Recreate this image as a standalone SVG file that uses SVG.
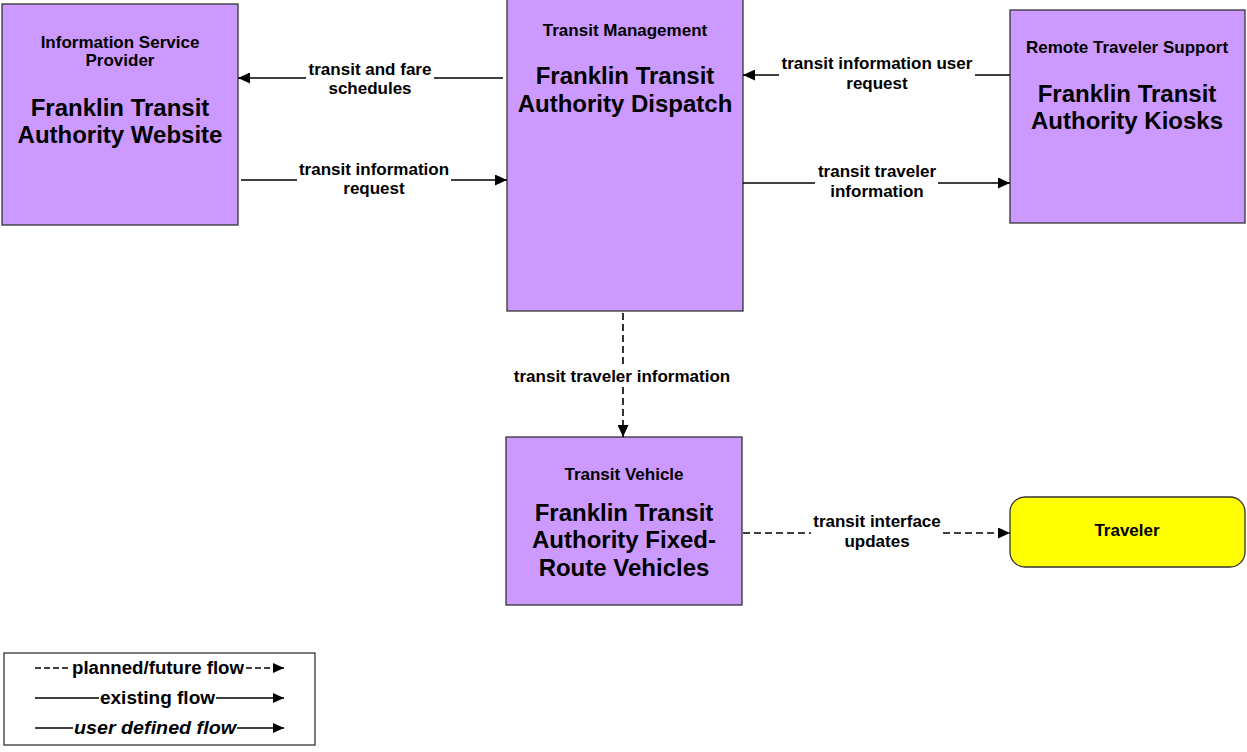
<svg xmlns="http://www.w3.org/2000/svg" width="1247" height="752" viewBox="0 0 1247 752">
<defs>
<marker id="ah" viewBox="0 0 12 11" refX="12" refY="5.5" markerWidth="12" markerHeight="11" markerUnits="userSpaceOnUse" orient="auto">
<path d="M0,0 L12,5.5 L0,11 Z" fill="#000"/>
</marker>
<marker id="ahs" viewBox="0 0 11 10" refX="11" refY="5" markerWidth="11" markerHeight="10" markerUnits="userSpaceOnUse" orient="auto">
<path d="M0,0 L11,5 L0,10 Z" fill="#000"/>
</marker>
<style>
.box{fill:#CC99FF;stroke:#333;stroke-width:1.3}
.trav{fill:#FFFF00;stroke:#333;stroke-width:1.3}
.hd{font-family:"Liberation Sans",Arial,sans-serif;font-weight:bold;font-size:17px;text-anchor:middle;fill:#000}
.big{font-family:"Liberation Sans",Arial,sans-serif;font-weight:bold;font-size:24px;text-anchor:middle;fill:#000}
.lbl{font-family:"Liberation Sans",Arial,sans-serif;font-weight:bold;font-size:17px;text-anchor:middle;fill:#000}
.lg{font-family:"Liberation Sans",Arial,sans-serif;font-weight:bold;font-size:18px;fill:#000}
.solid{stroke:#000;stroke-width:1.6;fill:none}
.dash{stroke:#000;stroke-width:1.6;fill:none;stroke-dasharray:7 4}
.lgbox{fill:#fff;stroke:#333;stroke-width:1.3}
</style>
</defs>
<rect width="1247" height="752" fill="#fff"/>

<g id="website">
<rect class="box" x="2" y="4" width="236" height="221"/>
<text class="hd" x="120" y="48">Information Service</text>
<text class="hd" x="120" y="66">Provider</text>
<text class="big" x="120" y="116">Franklin Transit</text>
<text class="big" x="120" y="143">Authority Website</text>
</g>

<g id="dispatch">
<rect class="box" x="507" y="-2" width="236" height="313"/>
<text class="hd" x="625" y="36">Transit Management</text>
<text class="big" x="625" y="84">Franklin Transit</text>
<text class="big" x="625" y="112">Authority Dispatch</text>
</g>

<g id="kiosks">
<rect class="box" x="1010" y="10" width="235" height="213"/>
<text class="hd" x="1127" y="53">Remote Traveler Support</text>
<text class="big" x="1127" y="102">Franklin Transit</text>
<text class="big" x="1127" y="129">Authority Kiosks</text>
</g>

<g id="vehicles">
<rect class="box" x="506" y="437" width="236" height="168"/>
<text class="hd" x="624" y="480">Transit Vehicle</text>
<text class="big" x="624" y="521">Franklin Transit</text>
<text class="big" x="624" y="548">Authority Fixed-</text>
<text class="big" x="624" y="576">Route Vehicles</text>
</g>

<g id="traveler">
<rect class="trav" x="1010" y="497" width="235" height="70" rx="15" ry="15"/>
<text class="lbl" x="1127" y="536">Traveler</text>
</g>

<g id="connectors">
<path class="solid" d="M503,78 L434,78"/>
<path class="solid" d="M306,78 L238,78" marker-end="url(#ah)"/>
<text class="lbl" x="370" y="75">transit and fare</text>
<text class="lbl" x="370" y="94">schedules</text>

<path class="solid" d="M241,180 L297,180"/>
<path class="solid" d="M451,180 L507,180" marker-end="url(#ah)"/>
<text class="lbl" x="374" y="175">transit information</text>
<text class="lbl" x="374" y="194">request</text>

<path class="solid" d="M1010,75 L975,75"/>
<path class="solid" d="M779,75 L743,75" marker-end="url(#ah)"/>
<text class="lbl" x="877" y="69">transit information user</text>
<text class="lbl" x="877" y="89">request</text>

<path class="solid" d="M743,183 L815,183"/>
<path class="solid" d="M938,183 L1010,183" marker-end="url(#ah)"/>
<text class="lbl" x="877" y="177">transit traveler</text>
<text class="lbl" x="877" y="197">information</text>

<path class="dash" d="M623,313 L623,364"/>
<path class="dash" d="M623,387 L623,437" marker-end="url(#ah)"/>
<text class="lbl" x="622" y="382">transit traveler information</text>

<path class="dash" d="M743,533 L811,533"/>
<path class="dash" d="M943,533 L1010,533" marker-end="url(#ah)"/>
<text class="lbl" x="877" y="527">transit interface</text>
<text class="lbl" x="877" y="547">updates</text>
</g>

<g id="legend">
<rect class="lgbox" x="4" y="653" width="311" height="92"/>
<path class="dash" d="M35,668 L70,668" style="stroke-dasharray:6 3;stroke-width:1.3"/>
<text class="lg" x="72" y="674" textLength="172" lengthAdjust="spacingAndGlyphs">planned/future flow</text>
<path class="dash" d="M246,668 L284,668" style="stroke-dasharray:6 3;stroke-width:1.3" marker-end="url(#ahs)"/>
<path class="solid" d="M35,698 L99,698" style="stroke-width:1.3"/>
<text class="lg" x="100" y="704" textLength="115" lengthAdjust="spacingAndGlyphs">existing flow</text>
<path class="solid" d="M216,698 L284,698" style="stroke-width:1.3" marker-end="url(#ahs)"/>
<path class="solid" d="M35,728 L73,728" style="stroke-width:1.3"/>
<text class="lg" x="74" y="734" font-style="italic" textLength="162" lengthAdjust="spacingAndGlyphs">user defined flow</text>
<path class="solid" d="M237,728 L284,728" style="stroke-width:1.3" marker-end="url(#ahs)"/>
</g>
</svg>
